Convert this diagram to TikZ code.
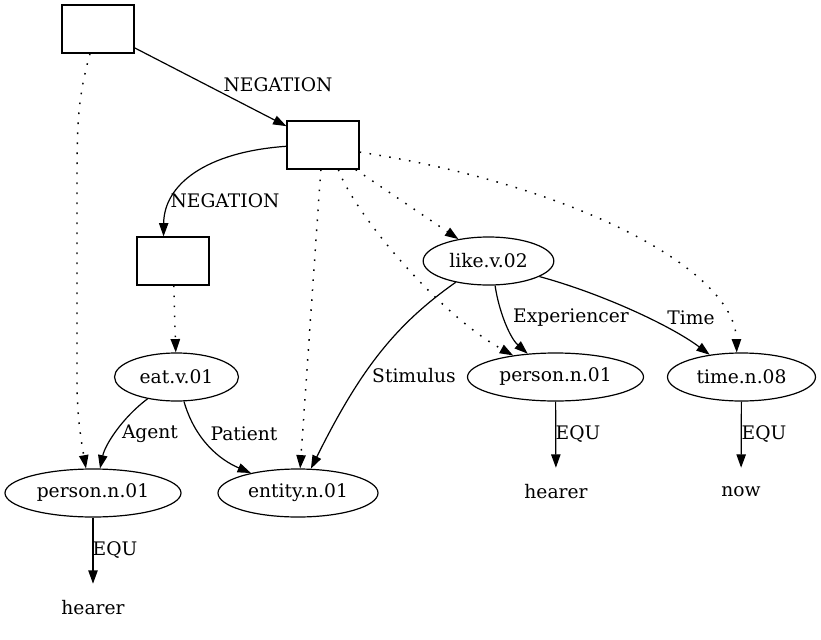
\documentclass[tikz,border=0pt]{standalone}
\usepackage{fontspec}
\setmainfont{DejaVu Serif}
\usetikzlibrary{arrows.meta,shapes.geometric}
\begin{document}
\begin{tikzpicture}[x=0.75pt,y=-0.75pt,
  every node/.style={font=\fontsize{14pt}{16pt}\selectfont},
  boxn/.style={draw,rectangle,minimum width=54pt,minimum height=36pt,inner sep=0pt,line width=0.9pt},
  elln/.style={draw,ellipse,minimum height=36pt,inner sep=0pt,line width=0.9pt},
  txtn/.style={rectangle,minimum height=36pt,inner sep=0pt},
  lbl/.style={fill=none,inner sep=0pt},
  edge/.style={line width=0.9pt,-{Triangle[length=10pt,width=7pt]}},
  dotedge/.style={edge,line width=1.1pt,dash pattern=on 1.2pt off 6.3pt}]
\useasboundingbox (0,0) rectangle (821,639);
\node[boxn] (b1) at (98,29) {};
\node[boxn] (b2) at (323,145) {};
\node[boxn] (b3) at (173,261) {};
\node[elln,minimum width=98pt] (like) at (488.5,261) {like.v.02};
\node[elln,minimum width=93pt] (eat) at (176.5,377) {eat.v.01};
\node[elln,minimum width=132pt] (pl) at (93,493) {person.n.01};
\node[elln,minimum width=120pt] (ent) at (298,493) {entity.n.01};
\node[elln,minimum width=132pt] (pr) at (555.5,377) {person.n.01};
\node[elln,minimum width=111pt] (time) at (741.5,377) {time.n.08};
\node[txtn] (hr) at (556,492) {hearer};
\node[txtn] (now) at (741,492) {now};
\node[txtn] (hl) at (93,608) {hearer};

\draw[edge] (b1) -- (b2);
\node[lbl] at (278,85) {NEGATION};
\draw[dotedge] (b1.252) .. controls (80,90) and (77,115) .. (77,170) -- (77,380) .. controls (77,420) and (82,445) .. (pl.106);
\draw[edge] (b2.182) .. controls (205,152) and (164,185) .. (b3.111);
\node[lbl] at (225,201) {NEGATION};
\draw[dotedge] (b3) -- (eat);
\draw[dotedge] (b2.-37) -- (like.144);
\draw[dotedge] (b2.265) -- (ent.85);
\draw[dotedge] (b2.-58) .. controls (355,215) and (440,315) .. (pr.153);
\draw[dotedge] (b2.-11) .. controls (575,185) and (735,270) .. (time.101);
\draw[edge] (like.213) .. controls (395,325) and (360,370) .. (ent.62);
\node[lbl] at (414,376) {Stimulus};
\draw[edge] (like.285) .. controls (499,312) and (510,338) .. (pr.140);
\node[lbl] at (571,318) {Experiencer};
\draw[edge] (like.-17) .. controls (600,293) and (670,325) .. (time.145);
\node[lbl] at (691,318) {Time};
\draw[edge] (eat.217) .. controls (122,418) and (105,445) .. (pl.74);
\node[lbl] at (150,434) {Agent};
\draw[edge] (eat.287) .. controls (195,440) and (220,460) .. (ent.157);
\node[lbl] at (244,434) {Patient};
\draw[edge] (pr) -- (hr);
\node[lbl] at (578,434) {EQU};
\draw[edge] (time) -- (now);
\node[lbl] at (764,434) {EQU};
\draw[edge] (pl) -- (hl);
\node[lbl] at (115,550) {EQU};
\end{tikzpicture}
\end{document}
